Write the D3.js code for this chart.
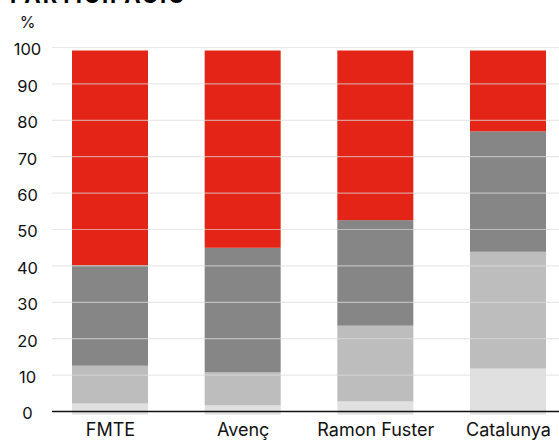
<!DOCTYPE html>
<html>
<head>
<meta charset="utf-8">
<script src="https://cdn.jsdelivr.net/npm/d3@7"></script>
<style>
  body { margin: 0; background: #fff; }
  svg { display: block; font-family: Inter, "Noto Sans", sans-serif; }
</style>
</head>
<body>
<svg width="559" height="442"></svg>
<script>
// categories and shares (%) per segment, bottom to top
var categories = ["FMTE", "Avenç", "Ramon Fuster", "Catalunya"];
var keys = ["s1", "s2", "s3", "s4"];
var s1 = [3.0, 2.5, 3.6, 12.6];
var s2 = [10.4, 9.1, 20.8, 32.1];
var s3 = [27.6, 34.2, 29.0, 33.1];
var s4 = [59.0, 54.2, 46.6, 22.2];
var yTicks = [0, 10, 20, 30, 40, 50, 60, 70, 80, 90, 100];
var colors = ["#e0e0e0", "#bdbdbd", "#868686", "#e32416"];

var rows = categories.map(function(c, i) {
  return { cat: c, s1: s1[i], s2: s2[i], s3: s3[i], s4: s4[i] };
});

var svg = d3.select("svg"),
    width = +svg.attr("width"),
    height = +svg.attr("height");

var x = d3.scalePoint().domain(categories).range([110, 508]);
var y = d3.scaleLinear().domain([0, 100]).range([411.5, 47.5]);
var color = d3.scaleOrdinal().domain(keys).range(colors);
var barW = 76;

// title, mostly cut off at the top edge
svg.append("text")
  .attr("x", 10).attr("y", 2.5)
  .attr("font-size", 22).attr("font-weight", "bold")
  .attr("textLength", 175)
  .text("PARTICIPACIÓ");

svg.append("text")
  .attr("x", 27.5).attr("y", 28)
  .attr("text-anchor", "middle")
  .attr("font-size", 16).attr("fill", "#111")
  .text("%");

var stacked = d3.stack().keys(keys)(rows);

// bars sit a few pixels below the axis baseline
var bars = svg.append("g").attr("transform", "translate(0,3)");
bars.selectAll("g")
  .data(stacked)
  .enter().append("g")
  .attr("fill", function(d) { return color(d.key); })
  .selectAll("rect")
  .data(function(d) { return d; })
  .enter().append("rect")
  .attr("x", function(d) { return x(d.data.cat) - barW / 2; })
  .attr("width", barW)
  .attr("y", function(d) { return y(d[1]); })
  .attr("height", function(d) { return y(d[0]) - y(d[1]); });

// grid on top of bars
var yAxis = svg.append("g")
  .call(d3.axisLeft(y).tickValues(yTicks).tickSize(0).tickFormat(d3.format("d")));
yAxis.select(".domain").remove();
yAxis.selectAll("text")
  .attr("x", 27.5).attr("dy", "0.45em")
  .attr("text-anchor", "middle")
  .attr("font-size", 16.5).attr("font-family", "Inter, sans-serif")
  .attr("fill", "#111");

svg.append("g").selectAll("line")
  .data(yTicks.filter(function(t) { return t > 0; }))
  .enter().append("line")
  .attr("x1", 52).attr("x2", width)
  .attr("y1", function(d) { return y(d); })
  .attr("y2", function(d) { return y(d); })
  .attr("stroke", "#dcdcdc").attr("stroke-opacity", 0.65)
  .attr("stroke-width", 1.2);

svg.append("line")
  .attr("x1", 52).attr("x2", width)
  .attr("y1", y(0)).attr("y2", y(0))
  .attr("stroke", "#111").attr("stroke-width", 1.4);

var xAxis = svg.append("g")
  .attr("transform", "translate(0," + y(0) + ")")
  .call(d3.axisBottom(x).tickSize(0));
xAxis.select(".domain").remove();
xAxis.selectAll("text")
  .attr("y", 12).attr("dy", "0.71em")
  .attr("font-size", 18).attr("font-family", "Inter, sans-serif")
  .attr("fill", "#111");
</script>
</body>
</html>
